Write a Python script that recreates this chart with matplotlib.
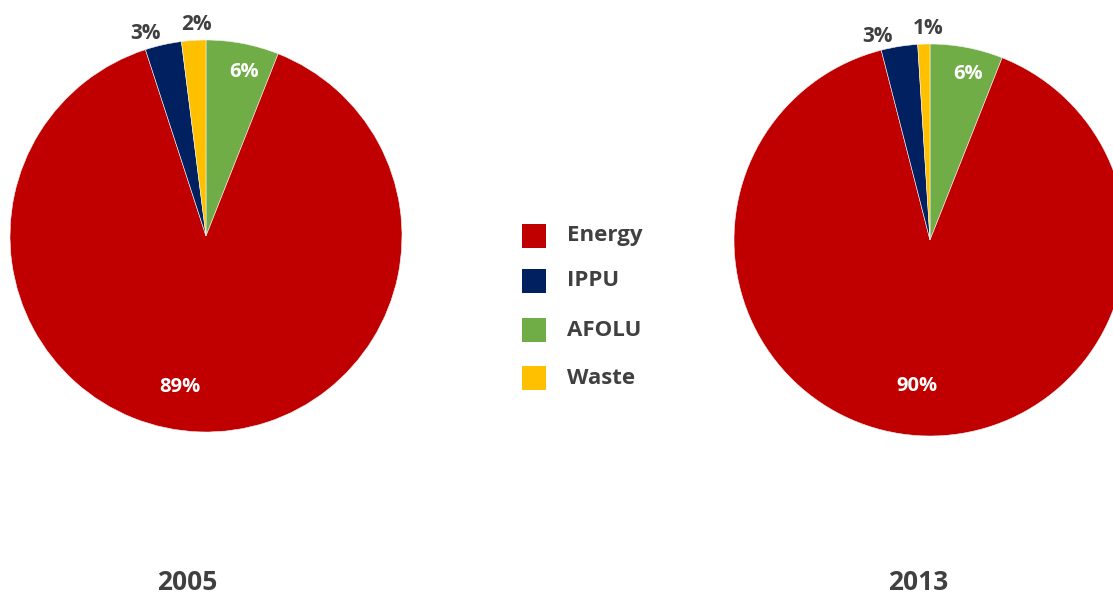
import matplotlib
matplotlib.use("Agg")
import math
import matplotlib.pyplot as plt
from matplotlib.patches import Rectangle

# Emissions share by sector (%)
sectors = ["Energy", "IPPU", "AFOLU", "Waste"]
share_2005 = [89, 3, 6, 2]
share_2013 = [90, 3, 6, 1]
years = ["2005", "2013"]

colors = {"Energy": "#C00000", "IPPU": "#002060", "AFOLU": "#70AD47", "Waste": "#FFC000"}
text_grey = "#404040"
font = ["Open Sans", "DejaVu Sans"]

# Wedges are drawn clockwise from 12 o'clock in this sector order
draw_order = ["AFOLU", "Energy", "IPPU", "Waste"]

# Label placement: (radius fraction, angle clockwise from top in degrees, colour)
label_pos = [
    {"Energy": (0.78, 190, "white"), "IPPU": (1.08, -16.5, text_grey),
     "AFOLU": (0.86, 13, "white"), "Waste": (1.08, -2.7, text_grey)},
    {"Energy": (0.75, 185, "white"), "IPPU": (1.07, -14.4, text_grey),
     "AFOLU": (0.87, 12.8, "white"), "Waste": (1.08, -0.5, text_grey)},
]

W, H = 1113, 594
fig = plt.figure(figsize=(W / 100, H / 100), dpi=100)

centers = [(206, 236), (930, 240)]
radius_px = 196
title_pos = [(187, 582), (918, 582)]

for i, (vals, year) in enumerate(zip([share_2005, share_2013], years)):
    cx, cy = centers[i]
    ax = fig.add_axes([(cx - radius_px) / W, (H - cy - radius_px) / H,
                       2 * radius_px / W, 2 * radius_px / H])
    v = dict(zip(sectors, vals))
    wedges, _ = ax.pie([v[s] for s in draw_order], colors=[colors[s] for s in draw_order],
                       startangle=90, counterclock=False, radius=1,
                       wedgeprops=dict(linewidth=0.4, edgecolor="#f4f4f4"))
    for w in wedges:
        w.set_clip_on(False)
    ax.set_xlim(-1, 1)
    ax.set_ylim(-1, 1)
    ax.axis("off")
    for s in sectors:
        r, ang, c = label_pos[i][s]
        a = math.radians(ang)
        size = 15 if c == text_grey else 14.5
        ax.text(r * math.sin(a), r * math.cos(a), f"{v[s]}%", ha="center", va="center",
                color=c, fontsize=size, fontweight="bold", family=font, clip_on=False)
    tx, ty = title_pos[i]
    fig.text(tx / W, 1 - ty / H, year, ha="center", va="center", fontsize=19,
             fontweight="bold", color=text_grey, family=font)

# Legend
leg_y = [236, 281, 330, 378]
for s, y in zip(sectors, leg_y):
    fig.patches.append(Rectangle((522 / W, 1 - (y + 12) / H), 24 / W, 24 / H,
                                 transform=fig.transFigure, facecolor=colors[s],
                                 edgecolor="none"))
    fig.text(567 / W, 1 - y / H, s, ha="left", va="center", fontsize=16,
             fontweight="bold", color=text_grey, family=font)

fig.savefig("out.png", dpi=100)
